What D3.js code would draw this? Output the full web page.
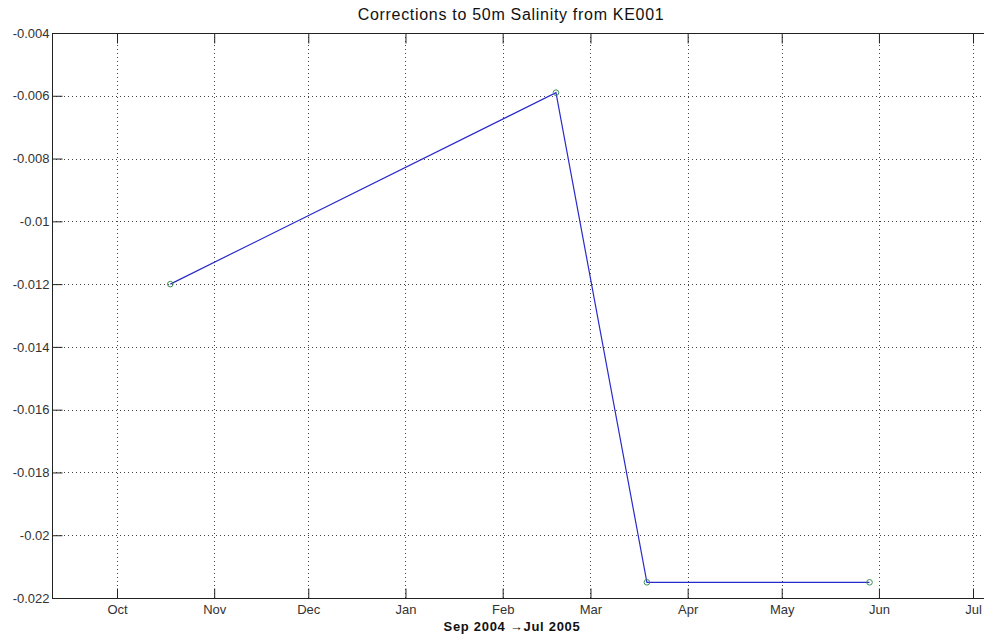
<!DOCTYPE html>
<html>
<head>
<meta charset="utf-8">
<script src="https://cdn.jsdelivr.net/npm/d3@7"></script>
<style>
  body { margin: 0; background: #fff; }
  svg { display: block; }
  text { font-family: "Liberation Sans", Arial, sans-serif; }
</style>
</head>
<body>
<div id="chart"></div>
<script>
// data
var sampleDates = ["2004-10-18", "2005-02-18", "2005-03-19", "2005-05-29"];
var corrections = [-0.012, -0.0059, -0.0215, -0.0215];
var yTicks = [-0.022, -0.02, -0.018, -0.016, -0.014, -0.012, -0.01, -0.008, -0.006, -0.004];
var monthTicks = ["2004-10-01", "2004-11-01", "2004-12-01", "2005-01-01", "2005-02-01",
                  "2005-03-01", "2005-04-01", "2005-05-01", "2005-06-01", "2005-07-01"];
var titleText = "Corrections to 50m Salinity from KE001";
var xLabelText = "Sep 2004 \u2192Jul 2005";

var width = 984, height = 637;
var pLeft = 52, pTop = 33, pBottom = 598, pRight = 992;

var parse = d3.utcParse("%Y-%m-%d");
var fmtMonth = d3.utcFormat("%b");

// Oct 1 -> 117px, Jul 1 -> 973px (axis itself runs from Sep 10 past the right edge)
var x = d3.scaleUtc()
    .domain([parse(monthTicks[0]), parse(monthTicks[monthTicks.length - 1])])
    .range([117, 973]);
var y = d3.scaleLinear()
    .domain([-0.022, -0.004])
    .range([pBottom, pTop]);

var svg = d3.select("#chart").append("svg")
    .attr("width", width)
    .attr("height", height);

var tickDates = monthTicks.map(parse);

// grid
var grid = svg.append("g")
    .attr("stroke", "#444")
    .attr("stroke-width", 1)
    .attr("stroke-dasharray", "1,3");
grid.selectAll(".vg").data(tickDates).enter().append("line")
    .attr("x1", function(d) { return Math.round(x(d)) + 0.5; })
    .attr("x2", function(d) { return Math.round(x(d)) + 0.5; })
    .attr("y1", pTop).attr("y2", pBottom);
grid.selectAll(".hg").data(yTicks.slice(1, -1)).enter().append("line")
    .attr("y1", function(d) { return Math.round(y(d)) + 0.5; })
    .attr("y2", function(d) { return Math.round(y(d)) + 0.5; })
    .attr("x1", pLeft).attr("x2", pRight);

// axes (MATLAB style: ticks inward, box on)
var xAxisB = svg.append("g")
    .attr("transform", "translate(0," + (pBottom + 0.5) + ")")
    .call(d3.axisBottom(x).tickValues(tickDates).tickFormat(fmtMonth).tickSizeInner(-10).tickSizeOuter(0).tickPadding(6));
var xAxisT = svg.append("g")
    .attr("transform", "translate(0," + (pTop + 0.5) + ")")
    .call(d3.axisTop(x).tickValues(tickDates).tickFormat("").tickSizeInner(-10).tickSizeOuter(0));
var yAxisL = svg.append("g")
    .attr("transform", "translate(" + (pLeft + 0.5) + ",0)")
    .call(d3.axisLeft(y).tickValues(yTicks).tickFormat(function(d) { return String(+d.toFixed(3)); })
        .tickSizeInner(-10).tickSizeOuter(0).tickPadding(3));

[xAxisB, xAxisT, yAxisL].forEach(function(a) {
    a.select(".domain").remove();
    a.selectAll(".tick line").attr("stroke", "#222");
    a.selectAll("text").attr("fill", "#333").style("font-size", "13px");
});

// box lines
svg.append("line").attr("x1", pLeft).attr("x2", pRight).attr("y1", pTop + 0.5).attr("y2", pTop + 0.5)
    .attr("stroke", "#222");
svg.append("line").attr("x1", pLeft).attr("x2", pRight).attr("y1", pBottom + 0.5).attr("y2", pBottom + 0.5)
    .attr("stroke", "#222");
svg.append("line").attr("x1", pLeft + 0.5).attr("x2", pLeft + 0.5).attr("y1", pTop).attr("y2", pBottom + 1)
    .attr("stroke", "#222");

// data line
var pts = sampleDates.map(function(d, i) { return { date: parse(d), value: corrections[i] }; });
var line = d3.line()
    .x(function(d) { return x(d.date); })
    .y(function(d) { return y(d.value); });

svg.append("path")
    .datum(pts)
    .attr("d", line)
    .attr("fill", "none")
    .attr("stroke", "#2a2acc")
    .attr("stroke-width", 1.2);

svg.selectAll(".pt").data(pts).enter().append("circle")
    .attr("cx", function(d) { return x(d.date); })
    .attr("cy", function(d) { return y(d.value); })
    .attr("r", 2.8)
    .attr("fill", "none")
    .attr("stroke", "#3d8f5a")
    .attr("stroke-width", 1);

// title & label
svg.append("text")
    .attr("x", 511).attr("y", 20)
    .attr("text-anchor", "middle")
    .style("font-size", "16px")
    .style("letter-spacing", "0.7px")
    .attr("fill", "#111")
    .text(titleText);

svg.append("text")
    .attr("x", 512).attr("y", 631)
    .attr("text-anchor", "middle")
    .style("font-size", "13px")
    .style("font-weight", "bold")
    .style("letter-spacing", "0.7px")
    .attr("fill", "#111")
    .text(xLabelText);
</script>
</body>
</html>
